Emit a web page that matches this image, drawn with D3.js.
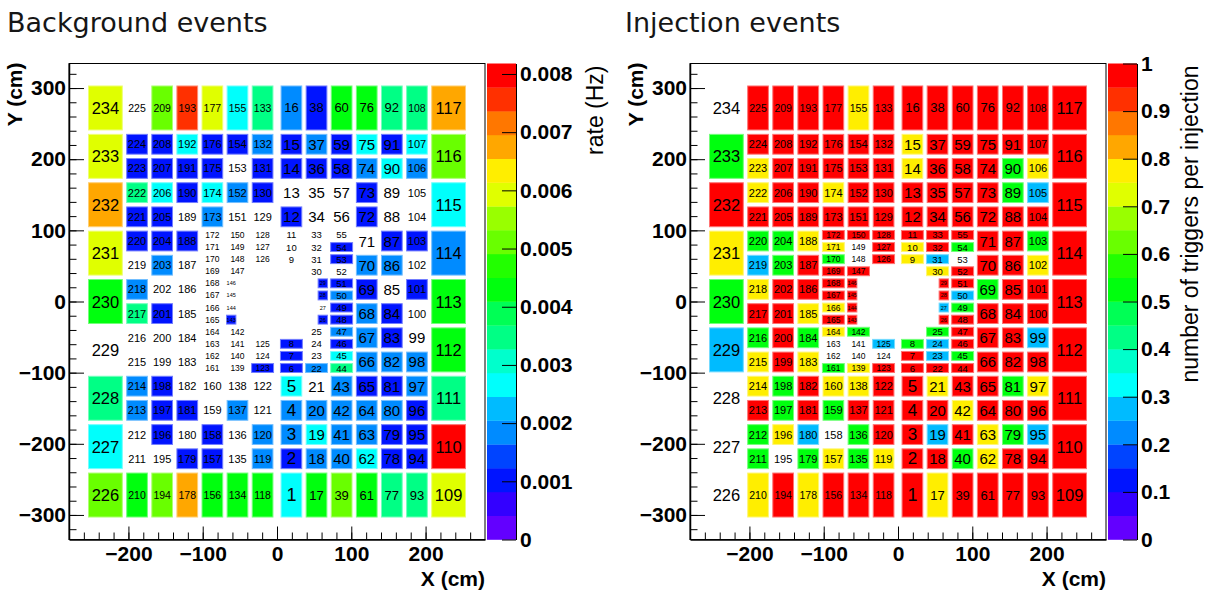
<!DOCTYPE html>
<html><head><meta charset="utf-8">
<script src="https://cdn.jsdelivr.net/npm/d3@7"></script>
<style>body{margin:0;background:#fff}svg{display:block}</style>
</head><body>
<svg id="chart" width="1209" height="591"></svg>
<script>
// ================= DATA =================
// background rate (Hz) per cell, cell id 1..234
const backgroundRate = [
  // 1-16
  0.00268,0.00103,0.00186,0.00186,0.00268,0.00103,0.00103,0.00103,0,0,0,0.00103,0,0.00103,0.00103,0.00186,
  // 17-38
  0.00433,0.00186,0.00268,0.00186,0,0.00186,0,0,0,0.00103,0,0.00103,0.00103,0,0,0,0,0,0,0.00103,0.00186,0.00103,
  // 39-60
  0.00516,0.00186,0.00186,0.00186,0.00186,0.00351,0.00268,0.00103,0.00186,0.00103,0.00103,0.00186,0.00103,0,0.00103,0.00103,0,0,0,0.00103,0.00103,0.00433,
  // 61-76
  0.00433,0.00268,0.00186,0.00186,0.00103,0.00186,0.00186,0.00186,0.00103,0.00186,0,0.00103,0.00103,0.00186,0.00268,0.00433,
  // 77-92
  0.00351,0.00103,0.00103,0.00186,0.00103,0.00186,0.00103,0.00103,0,0.00186,0.00103,0,0,0.00268,0.00103,0.00351,
  // 93-108
  0.00351,0.00103,0.00103,0.00103,0.00186,0.00186,0,0,0.00103,0,0.00103,0,0,0.00186,0.00268,0.00351,
  // 109-117
  0.00598,0.00804,0.00351,0.00433,0.00433,0.00186,0.00268,0.00516,0.00681,
  // 118-133
  0.00433,0.00186,0.00186,0,0,0.00103,0,0,0,0,0,0,0.00103,0.00103,0.00186,0.00351,
  // 134-155
  0.00433,0,0,0.00186,0,0,0,0,0,0.00103,0,0,0,0,0,0,0,0,0.00186,0,0.00103,0.00268,
  // 156-177
  0.00433,0.00103,0.00103,0,0,0,0,0,0,0,0,0,0,0,0,0,0,0.00186,0.00268,0.00103,0.00103,0.00598,
  // 178-193
  0.00681,0.00103,0,0.00103,0,0,0,0,0,0,0.00103,0,0.00103,0.00103,0.00268,0.00763,
  // 194-209
  0.00516,0,0.00103,0.00103,0.00103,0,0,0.00103,0,0.00186,0.00103,0.00103,0.00268,0.00103,0.00103,0.00516,
  // 210-225
  0.00433,0,0,0.00186,0.00186,0,0,0.00351,0.00186,0,0.00103,0.00103,0.00351,0.00103,0.00103,0,
  // 226-234
  0.00516,0.00268,0.00351,0,0.00433,0.00598,0.00681,0.00598,0.00598
];
// number of triggers per injection, cell id 1..234
const injectionFraction = [
  1,1,1,1,1,1,1,.5,.75,.75,1,1,1,.75,.75,1,
  .75,1,.25,1,.75,1,.25,.25,.5,1,.25,1,1,.75,.25,1,1,1,1,1,1,1,
  1,.5,1,.75,1,1,.5,1,1,1,.5,.25,1,1,0,.5,1,1,1,1,1,1,
  1,.75,.75,1,1,1,1,1,.5,1,1,1,1,1,1,1,
  1,1,.5,1,.5,1,1,1,1,1,1,1,.5,.5,1,1,
  1,1,.25,1,.75,1,.25,1,1,.75,.5,1,.25,.75,1,1,
  1,1,1,1,1,1,1,1,1,
  1,.75,1,1,1,1,0,.25,1,1,1,1,1,1,1,1,
  1,.5,.5,1,.75,.75,0,0,.5,1,1,1,1,1,0,0,1,1,1,1,1,.75,
  1,.75,0,.5,.75,.5,0,0,.75,1,.75,1,1,1,.5,.75,1,1,.75,1,1,1,
  .75,.5,.25,1,1,.75,.5,.75,1,1,.75,1,1,1,1,1,
  1,0,.75,.5,.5,1,1,1,1,.5,.5,1,1,1,1,1,
  .75,.5,.5,1,.75,.75,.5,1,.75,.25,.5,1,.75,.75,1,1,
  0,0,0,.25,.5,.75,1,.5,0
];
// detector geometry (cm)
const smallColumnX = [19.4, 53.2, 87.0, 120.8, 154.6, 188.4];
const columnPattern = ["A","B","C","D","D","D"];
const bigColumnX = 231;
const bigRowY = [-272,-204,-136,-68,0,68,136,204,272];
const tallRowY = [-272, 272];
const normalRowY = [-221,-187,-153,-119,-85,-51,-17,17,51,85,119,153,187,221];
const quarterRowY = [-93.5,-76.5,-59.5,-42.5,-25.5,-8.5,8.5,25.5,42.5,59.5,76.5,93.5];
// axes
const xTickValues = [-200,-100,0,100,200];
const yTickValues = [-300,-200,-100,0,100,200,300];
const rateTicks = [0,0.001,0.002,0.003,0.004,0.005,0.006,0.007,0.008];
const rateTickLabels = ["0","0.001","0.002","0.003","0.004","0.005","0.006","0.007","0.008"];
const injTicks = [0,0.1,0.2,0.3,0.4,0.5,0.6,0.7,0.8,0.9,1];
const injTickLabels = ["0","0.1","0.2","0.3","0.4","0.5","0.6","0.7","0.8","0.9","1"];
const panelTitles = ["Background events","Injection events"];
const zTitles = ["rate (Hz)","number of triggers per injection"];
const axisTitles = ["X (cm)","Y (cm)"];

// ================= GEOMETRY BUILD =================
const COL_W = 33.8, BIG_W = 51.4, ROW_H = 34;
function columnSlots(p){
  const s = [];
  tallRowY.forEach(y=>s.push({y, h:2*ROW_H, kind:"tall", dx:0, w:1}));
  if (p==="D") normalRowY.forEach(y=>s.push({y,h:ROW_H,kind:"norm",dx:0,w:1}));
  else {
    normalRowY.filter(y=>Math.abs(y)>=119).forEach(y=>s.push({y,h:ROW_H,kind:"norm",dx:0,w:1}));
    quarterRowY.forEach(y=>{
      const a = Math.abs(y);
      if (p==="A" && a>=59) s.push({y,h:ROW_H/2,kind:"quar",dx:0,w:1});
      if (p==="B" && a>=42) s.push({y,h:ROW_H/2,kind:"quar",dx:0,w:1});
      if (p==="B" && a<30) s.push({y,h:ROW_H/2,kind:"tiny",dx:0.25,w:0.5});
      if (p==="C") s.push({y,h:ROW_H/2,kind:"quar",dx:0,w:1});
    });
  }
  return s.sort((a,b)=>a.y-b.y);
}
function buildCells(){
  const cells = [];
  [1,-1].forEach(side=>{
    smallColumnX.forEach((cx,i)=>{
      columnSlots(columnPattern[i]).forEach(sl=>{
        const xc = side*(cx + sl.dx*COL_W), hw = sl.w*COL_W/2;
        cells.push({x0:xc-hw, x1:xc+hw, y0:sl.y-sl.h/2, y1:sl.y+sl.h/2, kind:sl.kind});
      });
    });
    bigRowY.forEach(y=>cells.push({x0:side*bigColumnX-BIG_W/2, x1:side*bigColumnX+BIG_W/2, y0:y-ROW_H, y1:y+ROW_H, kind:"big"}));
  });
  cells.forEach((c,i)=>c.id=i+1);
  return cells;
}
const cells = buildCells();

// ROOT "pretty" palette, 20 contour levels
const palette = d3.range(20).map(k=>{
  const i = Math.floor((k+0.99)*50/20);
  const hue = i>=49 ? 0 : 280-(i+1)*5.6;
  return d3.hsl(hue,1,0.5).formatHex();
});

function labelSize(kind,n){
  if (kind==="big") return 16.5;
  if (kind==="tall") return [18,13,10.5][n-1];
  if (kind==="norm") return [17,15,11][n-1];
  if (kind==="quar") return n===3?8.5:9.5;
  return 5.5;
}

// ================= DRAW =================
const svg = d3.select("#chart");
const yTop = 63.5, yBot = 539.5;
const panels = [
  {title:panelTitles[0], values:backgroundRate, zMax:0.00818, zTicks:rateTicks, zLabels:rateTickLabels,
   zTitle:zTitles[0], x0:69, x1:485, cb0:487, cb1:516, titleX:7, zTitleX:603},
  {title:panelTitles[1], values:injectionFraction, zMax:1, zTicks:injTicks, zLabels:injTickLabels,
   zTitle:zTitles[1], x0:690, x1:1106, cb0:1108, cb1:1137, titleX:625, zTitleX:1198}
];
const LABEL_FONT = "'Liberation Sans', Arial, Helvetica, sans-serif";

panels.forEach(P=>{
  const g = svg.append("g");
  const x = d3.scaleLinear().domain([-280,280]).range([P.x0,P.x1]);
  const y = d3.scaleLinear().domain([-334.5,334.5]).range([yBot,yTop]);
  const color = d3.scaleQuantize().domain([0,P.zMax]).range(palette);
  const z = d3.scaleLinear().domain([0,P.zMax]).range([yBot,yTop]);

  // title
  g.append("text").attr("x",P.titleX).attr("y",32).text(P.title)
    .attr("font-family","'DejaVu Sans', Verdana, sans-serif").attr("font-size",27).attr("fill","#161616");

  // cells
  const inset = 2.2;
  const cg = g.append("g");
  cells.forEach(c=>{
    const v = P.values[c.id-1];
    const px0 = x(Math.min(c.x0,c.x1)), px1 = x(Math.max(c.x0,c.x1));
    const py0 = y(c.y1), py1 = y(c.y0);
    const ins = (c.kind==="quar"||c.kind==="tiny") ? 1.6 : inset;
    if (v>0){
      const col = color(v);
      cg.append("rect").attr("x",px0+ins).attr("y",py0+ins)
        .attr("width",px1-px0-2*ins).attr("height",py1-py0-2*ins)
        .attr("fill",col).attr("stroke",d3.interpolateRgb(col,"#fff")(0.45)).attr("stroke-width",1);
    }
    const lbl = String(c.id);
    cg.append("text").attr("x",(px0+px1)/2).attr("y",(py0+py1)/2)
      .attr("text-anchor","middle").attr("dominant-baseline","central")
      .attr("font-family",LABEL_FONT).attr("font-size",labelSize(c.kind,lbl.length))
      .attr("fill","#000").text(lbl);
  });

  // frame
  g.append("rect").attr("x",P.x0).attr("y",yTop).attr("width",P.x1-P.x0).attr("height",yBot-yTop)
    .attr("fill","none").attr("stroke","#000").attr("stroke-width",1);

  // x axis
  const xMinor = d3.range(-260,261,20);
  g.append("g").attr("transform",`translate(0,${yBot})`)
    .call(d3.axisBottom(x).tickValues(xMinor).tickFormat("").tickSizeInner(-7).tickSizeOuter(0))
    .call(a=>a.select(".domain").remove());
  const xa = g.append("g").attr("transform",`translate(0,${yBot})`)
    .call(d3.axisBottom(x).tickValues(xTickValues).tickSizeInner(-13).tickSizeOuter(0).tickPadding(7).tickFormat(d3.format("d")));
  xa.select(".domain").attr("stroke-width",1.5);
  xa.selectAll("text").attr("font-family",LABEL_FONT).attr("font-weight","bold").attr("font-size",21).attr("fill","#000");

  // y axis
  const yMinor = d3.range(-320,321,20);
  g.append("g").attr("transform",`translate(${P.x0},0)`)
    .call(d3.axisLeft(y).tickValues(yMinor).tickFormat("").tickSizeInner(-7.5).tickSizeOuter(0))
    .call(a=>a.select(".domain").remove());
  const ya = g.append("g").attr("transform",`translate(${P.x0},0)`)
    .call(d3.axisLeft(y).tickValues(yTickValues).tickSizeInner(-15).tickSizeOuter(0).tickPadding(3).tickFormat(d3.format("d")));
  ya.select(".domain").attr("stroke-width",1.5);
  ya.selectAll("text").attr("font-family",LABEL_FONT).attr("font-weight","bold").attr("font-size",21).attr("fill","#000");

  // axis titles
  g.append("text").attr("x",P.x1).attr("y",586).attr("text-anchor","end")
    .attr("font-family",LABEL_FONT).attr("font-weight","bold").attr("font-size",21).text(axisTitles[0]);
  g.append("text").attr("transform",`translate(${P.x0-47},${yTop-1}) rotate(-90)`).attr("text-anchor","end")
    .attr("font-family",LABEL_FONT).attr("font-weight","bold").attr("font-size",21).text(axisTitles[1]);

  // color bar
  const nb = palette.length;
  palette.forEach((col,k)=>{
    const v0 = P.zMax*k/nb, v1 = P.zMax*(k+1)/nb;
    g.append("rect").attr("x",P.cb0).attr("y",z(v1)).attr("width",P.cb1-P.cb0).attr("height",z(v0)-z(v1)+0.3)
      .attr("fill",col);
  });
  const za = g.append("g").attr("transform",`translate(${P.cb1},0)`)
    .call(d3.axisRight(z).tickValues(P.zTicks).tickSizeInner(-14).tickSizeOuter(0).tickPadding(4)
      .tickFormat((d,i)=>P.zLabels[i]));
  za.select(".domain").attr("stroke-width",1);
  za.selectAll("text").attr("font-family",LABEL_FONT).attr("font-weight","bold").attr("font-size",21).attr("fill","#000");
  g.append("text").attr("transform",`translate(${P.zTitleX},${yTop+2}) rotate(-90)`).attr("text-anchor","end")
    .attr("font-family",LABEL_FONT).attr("font-size",23).attr("fill","#000").text(P.zTitle);
});
</script>
</body></html>
